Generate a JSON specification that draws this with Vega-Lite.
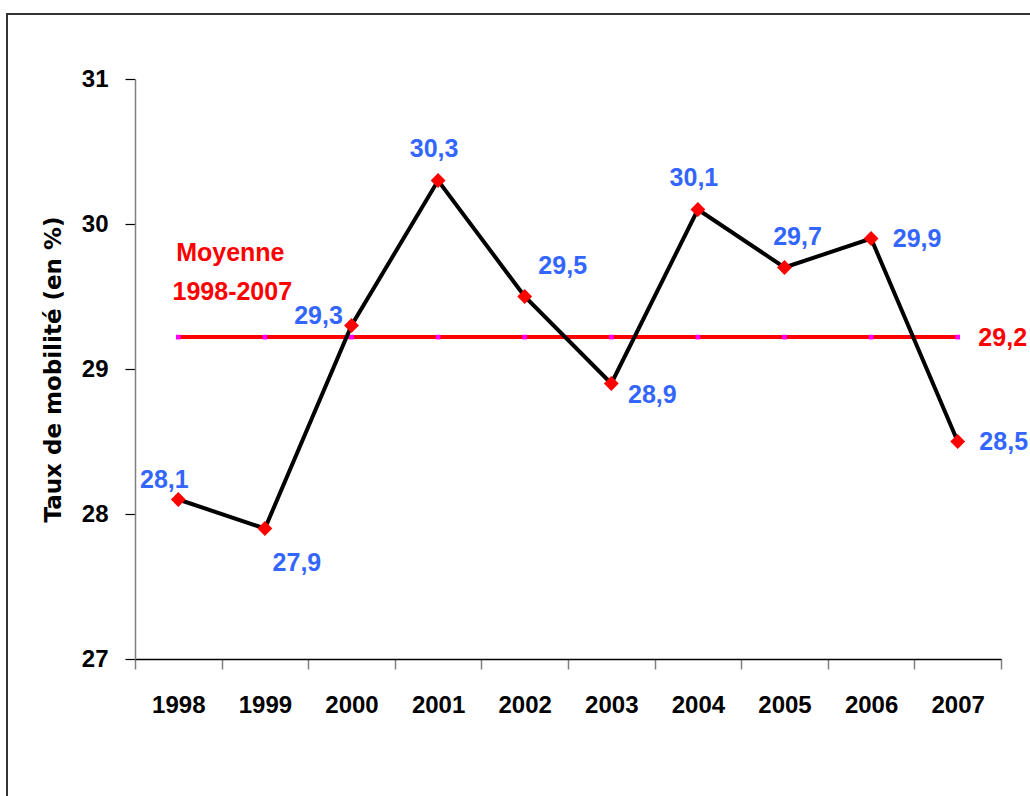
{
  "$schema": "https://vega.github.io/schema/vega-lite/v6.json",
  "width": 866,
  "height": 580,
  "autosize": {"type": "none"},
  "padding": {"left": 135, "top": 79, "right": 29, "bottom": 137},
  "background": "white",
  "config": {
    "view": {"stroke": null},
    "locale": {"number": {"decimal": ",", "thousands": " ", "grouping": [3], "currency": ["", " €"]}}
  },
  "data": {
    "values": [
      {"annee": "1998", "taux": 28.1, "moy": 29.22},
      {"annee": "1999", "taux": 27.9, "moy": 29.22},
      {"annee": "2000", "taux": 29.3, "moy": 29.22},
      {"annee": "2001", "taux": 30.3, "moy": 29.22},
      {"annee": "2002", "taux": 29.5, "moy": 29.22},
      {"annee": "2003", "taux": 28.9, "moy": 29.22},
      {"annee": "2004", "taux": 30.1, "moy": 29.22},
      {"annee": "2005", "taux": 29.7, "moy": 29.22},
      {"annee": "2006", "taux": 29.9, "moy": 29.22},
      {"annee": "2007", "taux": 28.5, "moy": 29.22}
    ]
  },
  "resolve": {"scale": {"x": "independent", "y": "independent"}},
  "layer": [
    {
      "data": {"values": [{"f": 1}]},
      "mark": {"type": "rect", "filled": false, "stroke": "#333333", "strokeWidth": 2},
      "encoding": {
        "x": {"datum": -0.1478, "type": "quantitative", "scale": {"domain": [0, 1], "nice": false, "zero": false}, "axis": null},
        "x2": {"datum": 1.2},
        "y": {"datum": 31.448, "type": "quantitative", "scale": {"domain": [27, 31], "nice": false, "zero": false}, "axis": null},
        "y2": {"datum": 25}
      }
    },
    {
      "encoding": {
        "x": {
          "field": "annee",
          "type": "ordinal",
          "bandPosition": 0.5,
          "scale": {"type": "band", "paddingInner": 0, "paddingOuter": 0},
          "axis": {
            "title": null,
            "labelAngle": 0,
            "tickBand": "extent",
            "domainColor": "#000000",
            "domainWidth": 1.5,
            "tickColor": "#808080",
            "tickSize": 10,
            "tickWidth": 1.5,
            "labelFont": "Liberation Sans",
            "labelFontSize": 24,
            "labelFontWeight": "bold",
            "labelColor": "#000000",
            "labelPadding": 24
          }
        },
        "y": {
          "field": "taux",
          "type": "quantitative",
          "scale": {"domain": [27, 31], "nice": false, "zero": false},
          "axis": {
            "values": [27, 28, 29, 30, 31],
            "title": "Taux de mobilité (en %)",
            "titleFont": "DejaVu Sans",
            "titleFontSize": 23,
            "titleFontWeight": "bold",
            "titleColor": "#000000",
            "titlePadding": 16,
            "domainColor": "#808080",
            "domainWidth": 1.5,
            "tickColor": "#000000",
            "tickSize": 10,
            "tickWidth": 1.2,
            "grid": false,
            "labelFont": "Liberation Sans",
            "labelFontSize": 24,
            "labelFontWeight": "bold",
            "labelColor": "#000000",
            "labelPadding": 17
          }
        }
      },
      "layer": [
        {"mark": {"type": "line", "color": "#ff0000", "strokeWidth": 4}, "encoding": {"y": {"field": "moy", "type": "quantitative"}}},
        {"mark": {"type": "point", "shape": "square", "filled": true, "color": "#ff00ff", "size": 22, "opacity": 1}, "encoding": {"y": {"field": "moy", "type": "quantitative"}}},
        {"mark": {"type": "line", "color": "#000000", "strokeWidth": 4}},
        {"mark": {"type": "point", "shape": "diamond", "filled": true, "color": "#ff0000", "size": 220, "opacity": 1}},
        {
          "transform": [{"filter": {"field": "annee", "equal": "2007"}}],
          "mark": {"type": "text", "font": "Liberation Sans", "fontSize": 25, "fontWeight": "bold", "color": "#ff0000", "align": "center", "baseline": "middle", "dx": 45, "dy": 1},
          "encoding": {"y": {"field": "moy", "type": "quantitative"}, "text": {"field": "moy", "type": "quantitative", "format": ".1f"}}
        },
        {
          "transform": [{"filter": {"field": "annee", "equal": "1998"}}],
          "mark": {"type": "text", "font": "Liberation Sans", "fontSize": 25, "fontWeight": "bold", "color": "#ff0000", "align": "center", "baseline": "middle", "dx": 52},
          "encoding": {"y": {"datum": 29.8, "type": "quantitative"}, "text": {"value": "Moyenne"}}
        },
        {
          "transform": [{"filter": {"field": "annee", "equal": "1998"}}],
          "mark": {"type": "text", "font": "Liberation Sans", "fontSize": 25, "fontWeight": "bold", "color": "#ff0000", "align": "center", "baseline": "middle", "dx": 54},
          "encoding": {"y": {"datum": 29.53, "type": "quantitative"}, "text": {"value": "1998-2007"}}
        },
        {
          "transform": [{"filter": {"field": "annee", "equal": "1998"}}],
          "mark": {"type": "text", "font": "Liberation Sans", "fontSize": 25, "fontWeight": "bold", "color": "#3366ff", "align": "center", "baseline": "middle", "dx": -14, "dy": -20},
          "encoding": {"text": {"field": "taux", "type": "quantitative", "format": ".1f"}}
        },
        {
          "transform": [{"filter": {"field": "annee", "equal": "1999"}}],
          "mark": {"type": "text", "font": "Liberation Sans", "fontSize": 25, "fontWeight": "bold", "color": "#3366ff", "align": "center", "baseline": "middle", "dx": 32, "dy": 34},
          "encoding": {"text": {"field": "taux", "type": "quantitative", "format": ".1f"}}
        },
        {
          "transform": [{"filter": {"field": "annee", "equal": "2000"}}],
          "mark": {"type": "text", "font": "Liberation Sans", "fontSize": 25, "fontWeight": "bold", "color": "#3366ff", "align": "center", "baseline": "middle", "dx": -33, "dy": -10},
          "encoding": {"text": {"field": "taux", "type": "quantitative", "format": ".1f"}}
        },
        {
          "transform": [{"filter": {"field": "annee", "oneOf": ["2001", "2004"]}}],
          "mark": {"type": "text", "font": "Liberation Sans", "fontSize": 25, "fontWeight": "bold", "color": "#3366ff", "align": "center", "baseline": "middle", "dx": -4, "dy": -32},
          "encoding": {"text": {"field": "taux", "type": "quantitative", "format": ".1f"}}
        },
        {
          "transform": [{"filter": {"field": "annee", "equal": "2002"}}],
          "mark": {"type": "text", "font": "Liberation Sans", "fontSize": 25, "fontWeight": "bold", "color": "#3366ff", "align": "center", "baseline": "middle", "dx": 38, "dy": -31},
          "encoding": {"text": {"field": "taux", "type": "quantitative", "format": ".1f"}}
        },
        {
          "transform": [{"filter": {"field": "annee", "equal": "2003"}}],
          "mark": {"type": "text", "font": "Liberation Sans", "fontSize": 25, "fontWeight": "bold", "color": "#3366ff", "align": "center", "baseline": "middle", "dx": 41, "dy": 11},
          "encoding": {"text": {"field": "taux", "type": "quantitative", "format": ".1f"}}
        },
        {
          "transform": [{"filter": {"field": "annee", "equal": "2005"}}],
          "mark": {"type": "text", "font": "Liberation Sans", "fontSize": 25, "fontWeight": "bold", "color": "#3366ff", "align": "center", "baseline": "middle", "dx": 13, "dy": -31},
          "encoding": {"text": {"field": "taux", "type": "quantitative", "format": ".1f"}}
        },
        {
          "transform": [{"filter": {"field": "annee", "oneOf": ["2006", "2007"]}}],
          "mark": {"type": "text", "font": "Liberation Sans", "fontSize": 25, "fontWeight": "bold", "color": "#3366ff", "align": "center", "baseline": "middle", "dx": 46, "dy": 0},
          "encoding": {"text": {"field": "taux", "type": "quantitative", "format": ".1f"}}
        }
      ]
    }
  ]
}
